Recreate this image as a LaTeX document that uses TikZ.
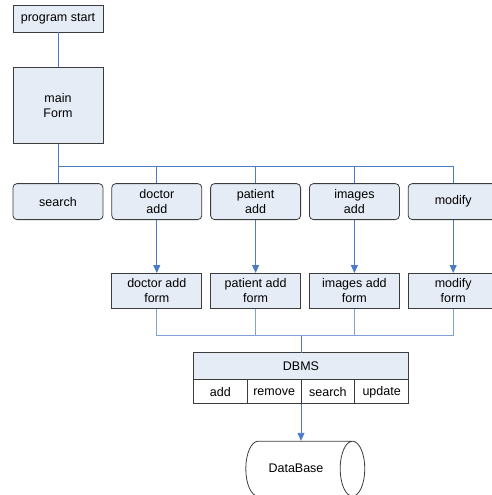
\documentclass[tikz,border=0pt]{standalone}
\usepackage{fontspec}
\setmainfont{Liberation Sans}
\usetikzlibrary{shapes.geometric,arrows.meta,positioning}
\definecolor{formfill}{HTML}{E6ECF6}
\definecolor{linkblue}{HTML}{4A7BC7}
\definecolor{buslight}{HTML}{7FA3D9}
\definecolor{boxline}{HTML}{3C3C3C}
\tikzset{
  plainbox/.style={rectangle, draw=boxline, fill=formfill, minimum width=90pt, minimum height=35pt, align=center, inner sep=1pt, line width=0.8pt, font=\fontsize{12.5}{15}\selectfont},
  roundbox/.style={plainbox, rounded corners=4pt, minimum height=36pt},
  cellbox/.style={rectangle, draw=boxline, fill=white, minimum width=53.75pt, minimum height=24pt, inner sep=1pt, outer sep=0pt, line width=0.8pt, font=\fontsize{12.5}{15}\selectfont},
  storage/.style={cylinder, draw=boxline, fill=white, minimum width=55pt, minimum height=119pt, shape aspect=1.6, line width=0.8pt, font=\fontsize{12.5}{15}\selectfont},
  link/.style={draw=linkblue, line width=0.9pt},
  flow/.style={link, -{Triangle[length=8pt,width=7pt]}},
  buslink/.style={draw=buslight, line width=0.9pt},
}
\begin{document}
\begin{tikzpicture}[x=1pt, y=1pt, node distance=8pt and 8pt]
  \useasboundingbox (0,0) rectangle (492,-495);
  \node[plainbox, minimum height=27pt] (start) at (58,-18.5) {program start};
  \node[plainbox, minimum height=76pt, below=35pt of start] (main) {main\\Form};
  \node[roundbox, below=39pt of main] (search) {search};
  \node[roundbox, right=of search] (doctor) {doctor\\add};
  \node[roundbox, right=of doctor] (patient) {patient\\add};
  \node[roundbox, right=of patient] (images) {images\\add};
  \node[roundbox, right=of images] (modify) {modify};
  % forms
  \node[plainbox, below=53pt of doctor] (doctorform) {doctor add\\form};
  \node[plainbox, below=53pt of patient] (patientform) {patient add\\form};
  \node[plainbox, below=53pt of images] (imagesform) {images add\\form};
  \node[plainbox, below=53pt of modify] (modifyform) {modify\\form};
  \coordinate[below=27pt of patientform.south east] (lowbus);
  \coordinate[below=22pt of main] (topbus);
  % dbms and its operations
  \node[plainbox, minimum width=215pt, minimum height=27pt, outer sep=0pt, below=17pt of lowbus] (dbms) {DBMS};
  \node[cellbox, anchor=north west] (add) at (dbms.south west) {add};
  \node[cellbox, right=0pt of add] (remove) {remove};
  \node[cellbox, right=0pt of remove] (find) {search};
  \node[cellbox, right=0pt of find] (update) {update};
  \node[storage, below=37pt of remove.south east, xshift=-5pt] (db) {DataBase};
  \draw[link] (start) -- (main);
  \draw[link] (main) -- (search);
  \foreach \n in {doctor,patient,images,modify}
    \draw[link] (topbus) -| (\n);
  \foreach \n in {doctor,patient,images,modify}
    \draw[flow] (\n) -- (\n form);
  \foreach \n in {doctor,patient,images,modify}
    \draw[buslink] (\n form) |- (lowbus);
  \draw[link] (lowbus) -- (dbms);
  \draw[flow] (remove.south east) -- (db.north -| remove.south east);
\end{tikzpicture}
\end{document}
